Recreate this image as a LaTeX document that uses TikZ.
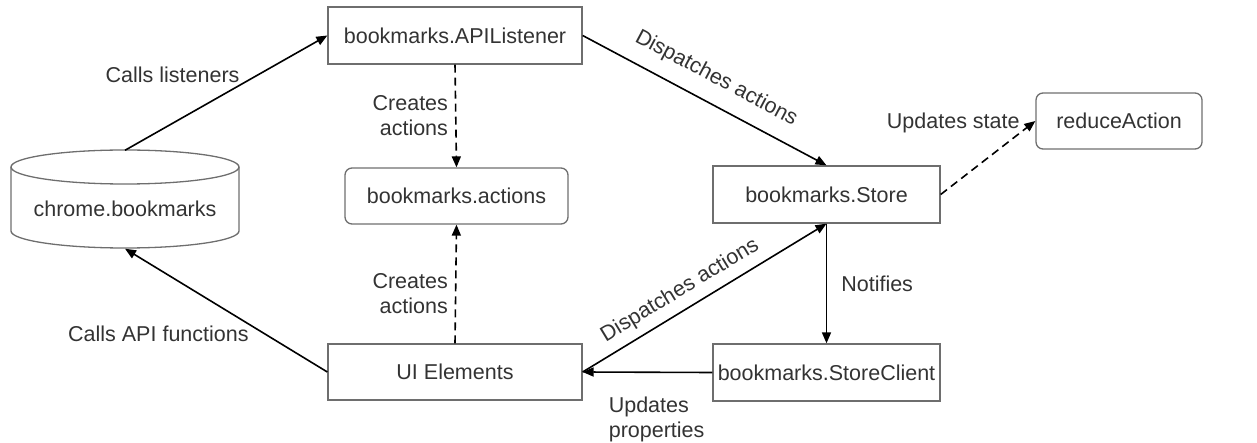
\documentclass[tikz,border=0pt]{standalone}
\usepackage{fontspec}
\setmainfont{Liberation Sans}
\usetikzlibrary{arrows.meta}
\definecolor{boxline}{HTML}{6E6E6E}
\definecolor{ink}{HTML}{333333}
\tikzset{
  box/.style={draw=boxline, line width=1.3pt, rectangle, text=ink, inner sep=0pt},
  roundbox/.style={box, rounded corners=7pt},
  link/.style={draw=black, line width=1.6pt, -{Triangle[length=11pt,width=9pt]}},
  dlink/.style={link, dash pattern=on 8pt off 5pt},
  lbl/.style={text=ink, inner sep=2pt, font=\fontsize{21.5}{25}\selectfont},
}
\begin{document}
\begin{tikzpicture}[x=1pt, y=-1pt, font=\fontsize{21.5}{25}\selectfont]
\useasboundingbox (0,0) rectangle (1257,443);

% nodes
\node[box, minimum width=254pt, minimum height=57pt] (api) at (455,35.5) {bookmarks.APIListener};
\node[roundbox, minimum width=223pt, minimum height=56pt] (actions) at (456.5,196) {bookmarks.actions};
\node[box, minimum width=254pt, minimum height=56pt] (ui) at (455,372) {UI Elements};
\node[box, minimum width=227pt, minimum height=57pt] (store) at (826.5,194.5) {bookmarks.Store};
\node[box, minimum width=227pt, minimum height=57pt] (client) at (826.5,372.5) {bookmarks.StoreClient};
\node[roundbox, minimum width=166pt, minimum height=56pt] (reduce) at (1119,121) {reduceAction};

% database cylinder
\node[text=ink, minimum width=228pt, minimum height=98pt, inner sep=0pt] (chrome) at (125,199.5) {};
\node[text=ink] at (125,209) {chrome.bookmarks};
\draw[boxline, line width=1.3pt]
  (11,167) arc[start angle=180, end angle=0, x radius=114pt, y radius=17pt]
  arc[start angle=0, end angle=-180, x radius=114pt, y radius=17pt];
\draw[boxline, line width=1.3pt]
  (11,167) -- (11,231) arc[start angle=180, end angle=360, x radius=114pt, y radius=17pt] -- (239,167);

% connectors
\draw[link] (chrome.north) -- node[lbl, pos=0.56, anchor=south east, xshift=4pt] {Calls listeners} (api.west);
\draw[link] (ui.west) -- node[lbl, pos=0.4, anchor=north east, xshift=5pt] {Calls API functions} (chrome.south);
\draw[dlink] (api.south) -- node[lbl, pos=0.5, anchor=east, align=right, xshift=-5pt] {Creates\\actions} (actions.north);
\draw[dlink] (ui.north) -- node[lbl, pos=0.417, anchor=east, align=right, xshift=-5pt] {Creates\\actions} (actions.south);
\draw[link] (api.east) -- node[lbl, pos=0.5, sloped, above=12pt] {Dispatches actions} (store.north);
\draw[link] (ui.east) -- node[lbl, pos=0.44, sloped, above=6pt] {Dispatches actions} (store.south);
\draw[link] (store.south) -- node[lbl, pos=0.5, right=12pt] {Notifies} (client.north);
\draw[link] (client.west) -- node[lbl, pos=0.82, anchor=north west, align=left, yshift=-22pt] {Updates\\properties} (ui.east);
\draw[dlink] (store.east) -- node[lbl, pos=0.8, anchor=south east, xshift=6pt] {Updates state} (reduce.west);
\end{tikzpicture}
\end{document}
